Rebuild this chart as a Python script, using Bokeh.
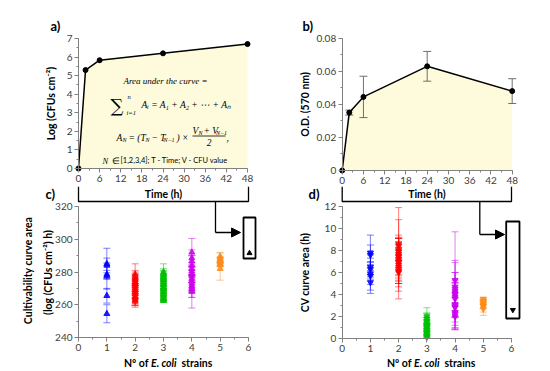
import math
from bokeh.plotting import figure
from bokeh.layouts import column, row
from bokeh.models import (Range1d, SingleIntervalTicker, Label, Arrow, NormalHead,
                          ColumnDataSource)
from bokeh.embed import file_html
from bokeh.resources import INLINE

# ---------------- data ----------------
time_h = [0, 2, 6, 24, 48]
cfu_log = [0.0, 5.30, 5.83, 6.20, 6.70]
od_570 = [0.0, 0.035, 0.0445, 0.063, 0.048]
od_err = [0.0, 0.0015, 0.0125, 0.009, 0.0075]

strain_colors = ["#0000FF", "#FF0000", "#00C000", "#CC00EE", "#FF8C1A"]

# cultivability curve area (log(CFUs cm-2) h), per number of strains
culti_1 = [285.0, 284.0, 278.5, 277.5, 265.5, 254.5]
culti_1_err = [9.5, 4.5, 2.5, 8.0, 4.5, 5.5]
culti_2 = [278.5, 277.0, 276.0, 275.0, 274.0, 273.0, 272.5, 271.5, 270.0, 269.0,
           268.0, 266.5, 265.0, 264.0, 263.0, 262.0]
culti_2_err = [6.5, 4.0, 3.0, 5.0, 2.5, 4.5, 6.0, 3.5, 5.5, 2.5, 4.0, 3.0, 5.5, 4.0, 3.5, 3.5]
culti_3 = [280.0, 279.0, 278.0, 277.0, 276.0, 275.0, 274.0, 273.0, 272.0, 271.0,
           270.5, 269.5, 268.5, 267.5, 266.5, 265.5, 264.5, 263.5, 262.5]
culti_3_err = [5.0, 3.0, 2.5, 4.0, 2.0, 3.5, 2.5, 4.0, 3.0, 2.0, 3.5, 2.5, 3.0, 2.0, 3.5,
               2.5, 2.0, 1.5, 1.0]
culti_4 = [292.0, 288.5, 286.5, 284.0, 282.0, 280.5, 279.0, 277.5, 276.0, 274.5,
           273.0, 271.5, 270.5, 269.5, 268.0]
culti_4_err = [8.5, 5.0, 3.5, 6.0, 4.0, 3.0, 5.5, 4.0, 2.5, 6.5, 4.5, 7.0, 3.0, 5.0, 10.0]
culti_5 = [289.5, 288.5, 287.5, 287.0, 286.0, 285.0, 284.5, 282.0]
culti_5_err = [2.5, 3.0, 1.5, 2.0, 2.5, 1.0, 1.5, 7.0]
culti_example = [291.5]

# CV curve area (h)
cv_1 = [7.8, 7.6, 6.5, 6.3, 5.9, 5.7, 5.1]
cv_1_err = [1.6, 0.9, 1.1, 0.7, 1.0, 1.6, 0.7]
cv_2 = [8.6, 8.4, 8.1, 7.9, 7.7, 7.5, 7.4, 7.2, 7.0, 6.9, 6.7, 6.5, 6.3, 6.1, 6.0]
cv_2_err = [3.3, 0.7, 1.0, 2.9, 1.4, 1.7, 0.9, 2.2, 1.8, 1.2, 2.4, 1.5, 0.8, 2.5, 1.3]
cv_3 = [2.0, 1.8, 1.6, 1.5, 1.3, 1.2, 1.1, 1.0, 0.9, 0.8, 0.6, 0.5, 0.4, 0.2, 0.1]
cv_3_err = [0.8, 0.5, 0.7, 0.4, 0.6, 0.5, 0.3, 0.6, 0.4, 0.5, 0.3, 0.4, 0.3, 0.2, 0.1]
cv_4 = [5.3, 4.7, 4.5, 4.3, 4.1, 4.0, 3.8, 3.6, 3.1, 2.9, 2.8, 2.4, 2.2, 2.0]
cv_4_err = [4.4, 2.2, 1.5, 2.8, 1.0, 2.0, 1.3, 1.7, 1.1, 2.1, 0.9, 1.4, 1.0, 1.2]
cv_5 = [3.6, 3.4, 3.3, 3.1, 3.0, 2.9, 2.7]
cv_5_err = [0.1, 0.3, 0.2, 0.4, 0.3, 0.5, 0.6]
cv_example = [2.6]

culti_groups = [culti_1, culti_2, culti_3, culti_4, culti_5]
culti_errs = [culti_1_err, culti_2_err, culti_3_err, culti_4_err, culti_5_err]
cv_groups = [cv_1, cv_2, cv_3, cv_4, cv_5]
cv_errs = [cv_1_err, cv_2_err, cv_3_err, cv_4_err, cv_5_err]
n_strains = [1, 2, 3, 4, 5]

SANS = "Lato"
SERIF = "Liberation Serif"
AX = "#808080"
FILL = "#FDFBDC"


def lin(p0, v0, p1, v1):
    """pixel -> value mapping for layout positions of decorations"""
    return lambda p: v0 + (p - p0) * (v1 - v0) / (p1 - p0)


def make_fig(w, h, fx, fy, left, top):
    p = figure(width=w, height=h, output_backend="svg", toolbar_location=None,
               x_range=Range1d(fx(left), fx(left + w)),
               y_range=Range1d(fy(top + h), fy(top)),
               min_border_left=0, min_border_right=0, min_border_top=0, min_border_bottom=0)
    p.outline_line_color = None
    p.grid.visible = False
    for ax in p.axis:
        ax.axis_line_color = AX
        ax.axis_line_width = 1
        ax.major_tick_line_color = AX
        ax.minor_tick_line_color = AX
        ax.major_tick_in = 0
        ax.major_tick_out = 4
        ax.minor_tick_in = 0
        ax.minor_tick_out = 2
        ax.major_label_text_font = SANS
        ax.major_label_text_font_size = "10px"
        ax.major_label_text_color = "#404040"
        ax.major_label_standoff = 2
        ax.axis_label_text_font = SANS
        ax.axis_label_text_font_style = "bold"
        ax.axis_label_text_font_size = "10.5px"
        ax.axis_label_text_color = "black"
    return p


def lab(p, text, x, y, size="10px", font=SANS, style_="normal", align="left",
        baseline="middle", xo=0, yo=0, color="black", angle=0.0):
    p.add_layout(Label(x=x, y=y, text=text, text_font=font, text_font_size=size,
                       text_font_style=style_, text_align=align, text_baseline=baseline,
                       x_offset=xo, y_offset=yo, text_color=color, angle=angle))


# ---------------- panel a ----------------
fxa = lin(78, 0, 247, 48)
fya = lin(168, 0, 38, 7)
pa = make_fig(275, 186, fxa, fya, 0, 0)
pa.xaxis.fixed_location = 0
pa.yaxis.fixed_location = 0
pa.xaxis.ticker = SingleIntervalTicker(interval=6, num_minor_ticks=2)
pa.yaxis.ticker = SingleIntervalTicker(interval=1, num_minor_ticks=2)
pa.xaxis.bounds = (0, 48)
pa.yaxis.bounds = (0, 7)
pa.yaxis.axis_label = "Log (CFUs cm\u207b\u00b2)"
pa.yaxis.axis_label_standoff = 7
pa.varea(x=time_h, y1=[0] * len(time_h), y2=cfu_log, fill_color=FILL)
pa.line(time_h, cfu_log, line_color="black", line_width=1.5)
pa.scatter(time_h, cfu_log, size=5, color="black")

lab(pa, "a)", fxa(50), fya(25), size="13px", style_="bold")
# formula text
lab(pa, "Area under the curve =", fxa(165), fya(80), size="9px", font=SERIF,
    style_="italic", align="center")
lab(pa, "\u2211", fxa(110), fya(105), size="18px", font="DejaVu Serif")
lab(pa, "n", fxa(127), fya(96), size="6.5px", font=SERIF, style_="italic")
lab(pa, "i=1", fxa(126), fya(112), size="6.5px", font=SERIF, style_="italic")
lab(pa, "A\u1d62 = A\u2081 + A\u2082 + \u22ef + A\u2099", fxa(141), fya(104), size="9.5px",
    font=SERIF, style_="italic")
lab(pa, "A", fxa(116), fya(137), size="9.5px", font=SERIF, style_="italic")
lab(pa, "N", fxa(122), fya(139.5), size="6px", font=SERIF, style_="italic")
lab(pa, "= (T", fxa(128), fya(137), size="9.5px", font=SERIF, style_="italic")
lab(pa, "N", fxa(145), fya(139.5), size="6px", font=SERIF, style_="italic")
lab(pa, "\u2212 T", fxa(151), fya(137), size="9.5px", font=SERIF, style_="italic")
lab(pa, "N\u22121", fxa(163), fya(139.5), size="6px", font=SERIF, style_="italic")
lab(pa, ") \u00d7", fxa(176), fya(137), size="9.5px", font=SERIF, style_="italic")
lab(pa, "V", fxa(192), fya(130), size="9.5px", font=SERIF, style_="italic")
lab(pa, "N", fxa(198), fya(132.5), size="6px", font=SERIF, style_="italic")
lab(pa, "+ V", fxa(203), fya(130), size="9.5px", font=SERIF, style_="italic")
lab(pa, "N\u22121", fxa(215.5), fya(132.5), size="6px", font=SERIF, style_="italic")
pa.line([fxa(192), fxa(225)], [fya(135.5), fya(135.5)], line_color="black", line_width=0.8)
lab(pa, "2", fxa(208.5), fya(142), size="9.5px", font=SERIF, style_="italic", align="center")
lab(pa, ",", fxa(226), fya(137), size="9.5px", font=SERIF, style_="italic")
lab(pa, "N", fxa(102), fya(160), size="8.5px", font=SERIF, style_="italic")
lab(pa, "\u2208", fxa(111), fya(160), size="8.5px", font=SERIF)
lab(pa, "[1,2,3,4]; T - Time; V - CFU value", fxa(120), fya(160), size="7.5px", font=SANS)

# ---------------- panel b ----------------
fxb = lin(341.7, 0, 511.7, 48)
fyb = lin(170, 0, 37.7, 0.08)
pb = make_fig(275, 186, fxb, fyb, 275, 0)
pb.xaxis.fixed_location = 0
pb.yaxis.fixed_location = 0
pb.xaxis.ticker = SingleIntervalTicker(interval=6, num_minor_ticks=2)
pb.yaxis.ticker = SingleIntervalTicker(interval=0.02, num_minor_ticks=2)
pb.xaxis.bounds = (0, 48)
pb.yaxis.bounds = (0, 0.08)
pb.yaxis.axis_label = "O.D. (570 nm)"
pb.yaxis.axis_label_standoff = 3
pb.varea(x=time_h, y1=[0] * len(time_h), y2=od_570, fill_color=FILL)
od_lo = [v - e for v, e in zip(od_570, od_err)]
od_hi = [v + e for v, e in zip(od_570, od_err)]
pb.segment(x0=time_h[1:], y0=od_lo[1:], x1=time_h[1:], y1=od_hi[1:], line_color="#606060",
           line_width=0.9)
pb.scatter(time_h[1:], od_lo[1:], marker="dash", size=8, line_color="#606060", line_width=0.9)
pb.scatter(time_h[1:], od_hi[1:], marker="dash", size=8, line_color="#606060", line_width=0.9)
pb.line(time_h, od_570, line_color="black", line_width=1.5)
pb.scatter(time_h, od_570, size=5, color="black")
lab(pb, "b)", fxb(302), fyb(25), size="13px", style_="bold")


# ---------------- helper for c/d ----------------
def groups(p, groups_, errs_, marker):
    for xs, vals, errs, col in zip(n_strains, groups_, errs_, strain_colors):
        src = ColumnDataSource(dict(
            x=[xs] * len(vals), y=vals,
            lo=[v - e for v, e in zip(vals, errs)],
            hi=[v + e for v, e in zip(vals, errs)]))
        p.segment(x0="x", y0="lo", x1="x", y1="hi", source=src, line_color=col,
                  line_alpha=0.5, line_width=1)
        p.scatter("x", "lo", source=src, marker="dash", size=7, line_color=col,
                  line_alpha=0.5, line_width=1)
        p.scatter("x", "hi", source=src, marker="dash", size=7, line_color=col,
                  line_alpha=0.5, line_width=1)
        p.scatter("x", "y", source=src, marker=marker, size=6, fill_color=col,
                  line_color=col, fill_alpha=0.85, line_alpha=0.85)


def bracket(p, fx, fy, left_px, ex_y, marker, box_px, drop_px, arrow_py, tip_px, letter):
    top = fy(186)
    by = fy(201)
    p.line([0, 0, 6, 6], [top, by, by, top], line_color="black", line_width=1.3)
    xd = fx(drop_px)
    ay = fy(arrow_py)
    p.line([xd, xd], [by, ay], line_color="black", line_width=1.3)
    p.add_layout(Arrow(end=NormalHead(size=9, fill_color="black", line_color="black"),
                       x_start=xd, y_start=ay, x_end=fx(tip_px), y_end=ay, line_width=1.3))
    bl, br, bt, bb = box_px
    p.quad(left=fx(bl), right=fx(br), bottom=fy(bb), top=fy(bt), fill_color=None,
           line_color="black", line_width=1.8)
    p.scatter([(fx(bl) + fx(br)) / 2], ex_y, marker=marker, size=5, color="black")
    lab(p, "Time (h)", 3, by, size="10.5px", style_="bold", align="center",
        baseline="bottom", yo=2)
    lab(p, letter, fx(left_px), fy(193), size="13px", style_="bold")


def xlabel(p, fx, fy, center_px):
    y = fy(362)
    lab(p, "N\u00ba of", fx(center_px - 15), y, size="10.5px", style_="bold", align="right")
    lab(p, "E. coli", fx(center_px - 12.5), y, size="10.5px", style_="bold italic")
    lab(p, "strains", fx(center_px + 18), y, size="10.5px", style_="bold")


# ---------------- panel c ----------------
fxc = lin(78, 0, 248, 6)
fyc = lin(337, 240, 206, 320)
pc = make_fig(275, 185, fxc, fyc, 0, 186)
pc.xaxis.fixed_location = 240
pc.yaxis.fixed_location = 0
pc.xaxis.ticker = SingleIntervalTicker(interval=1, num_minor_ticks=2)
pc.yaxis.ticker = SingleIntervalTicker(interval=20, num_minor_ticks=2)
pc.xaxis.bounds = (0, 6)
pc.yaxis.bounds = (240, 320)
groups(pc, culti_groups, culti_errs, "triangle")
bracket(pc, fxc, fyc, 45, culti_example, "triangle", (243, 255, 217, 258), 215, 232, 240, "c)")
xlabel(pc, fxc, fyc, 163)
lab(pc, "Cultivability curve area", fxc(27), fyc(270), size="10.5px", style_="bold",
    align="center", angle=math.pi / 2)
lab(pc, "(log (CFUs cm\u207b\u00b2) h)", fxc(47), fyc(272), size="10.5px", style_="bold",
    align="center", angle=math.pi / 2)

# ---------------- panel d ----------------
fxd = lin(341.7, 0, 511, 6)
fyd = lin(338, 0, 206, 12)
pd_ = make_fig(275, 185, fxd, fyd, 275, 186)
pd_.xaxis.fixed_location = 0
pd_.yaxis.fixed_location = 0
pd_.xaxis.ticker = SingleIntervalTicker(interval=1, num_minor_ticks=2)
pd_.yaxis.ticker = SingleIntervalTicker(interval=2, num_minor_ticks=2)
pd_.xaxis.bounds = (0, 6)
pd_.yaxis.bounds = (0, 12)
pd_.yaxis.axis_label = "CV curve area (h)"
pd_.yaxis.axis_label_standoff = 11
groups(pd_, cv_groups, cv_errs, "inverted_triangle")
bracket(pd_, fxd, fyd, 308, cv_example, "inverted_triangle", (505.7, 519, 221, 318), 479.3,
        234, 504, "d)")
xlabel(pd_, fxd, fyd, 426)

layout = column(row(pa, pb), row(pc, pd_))
open("out.html", "w").write(file_html(layout, INLINE))
